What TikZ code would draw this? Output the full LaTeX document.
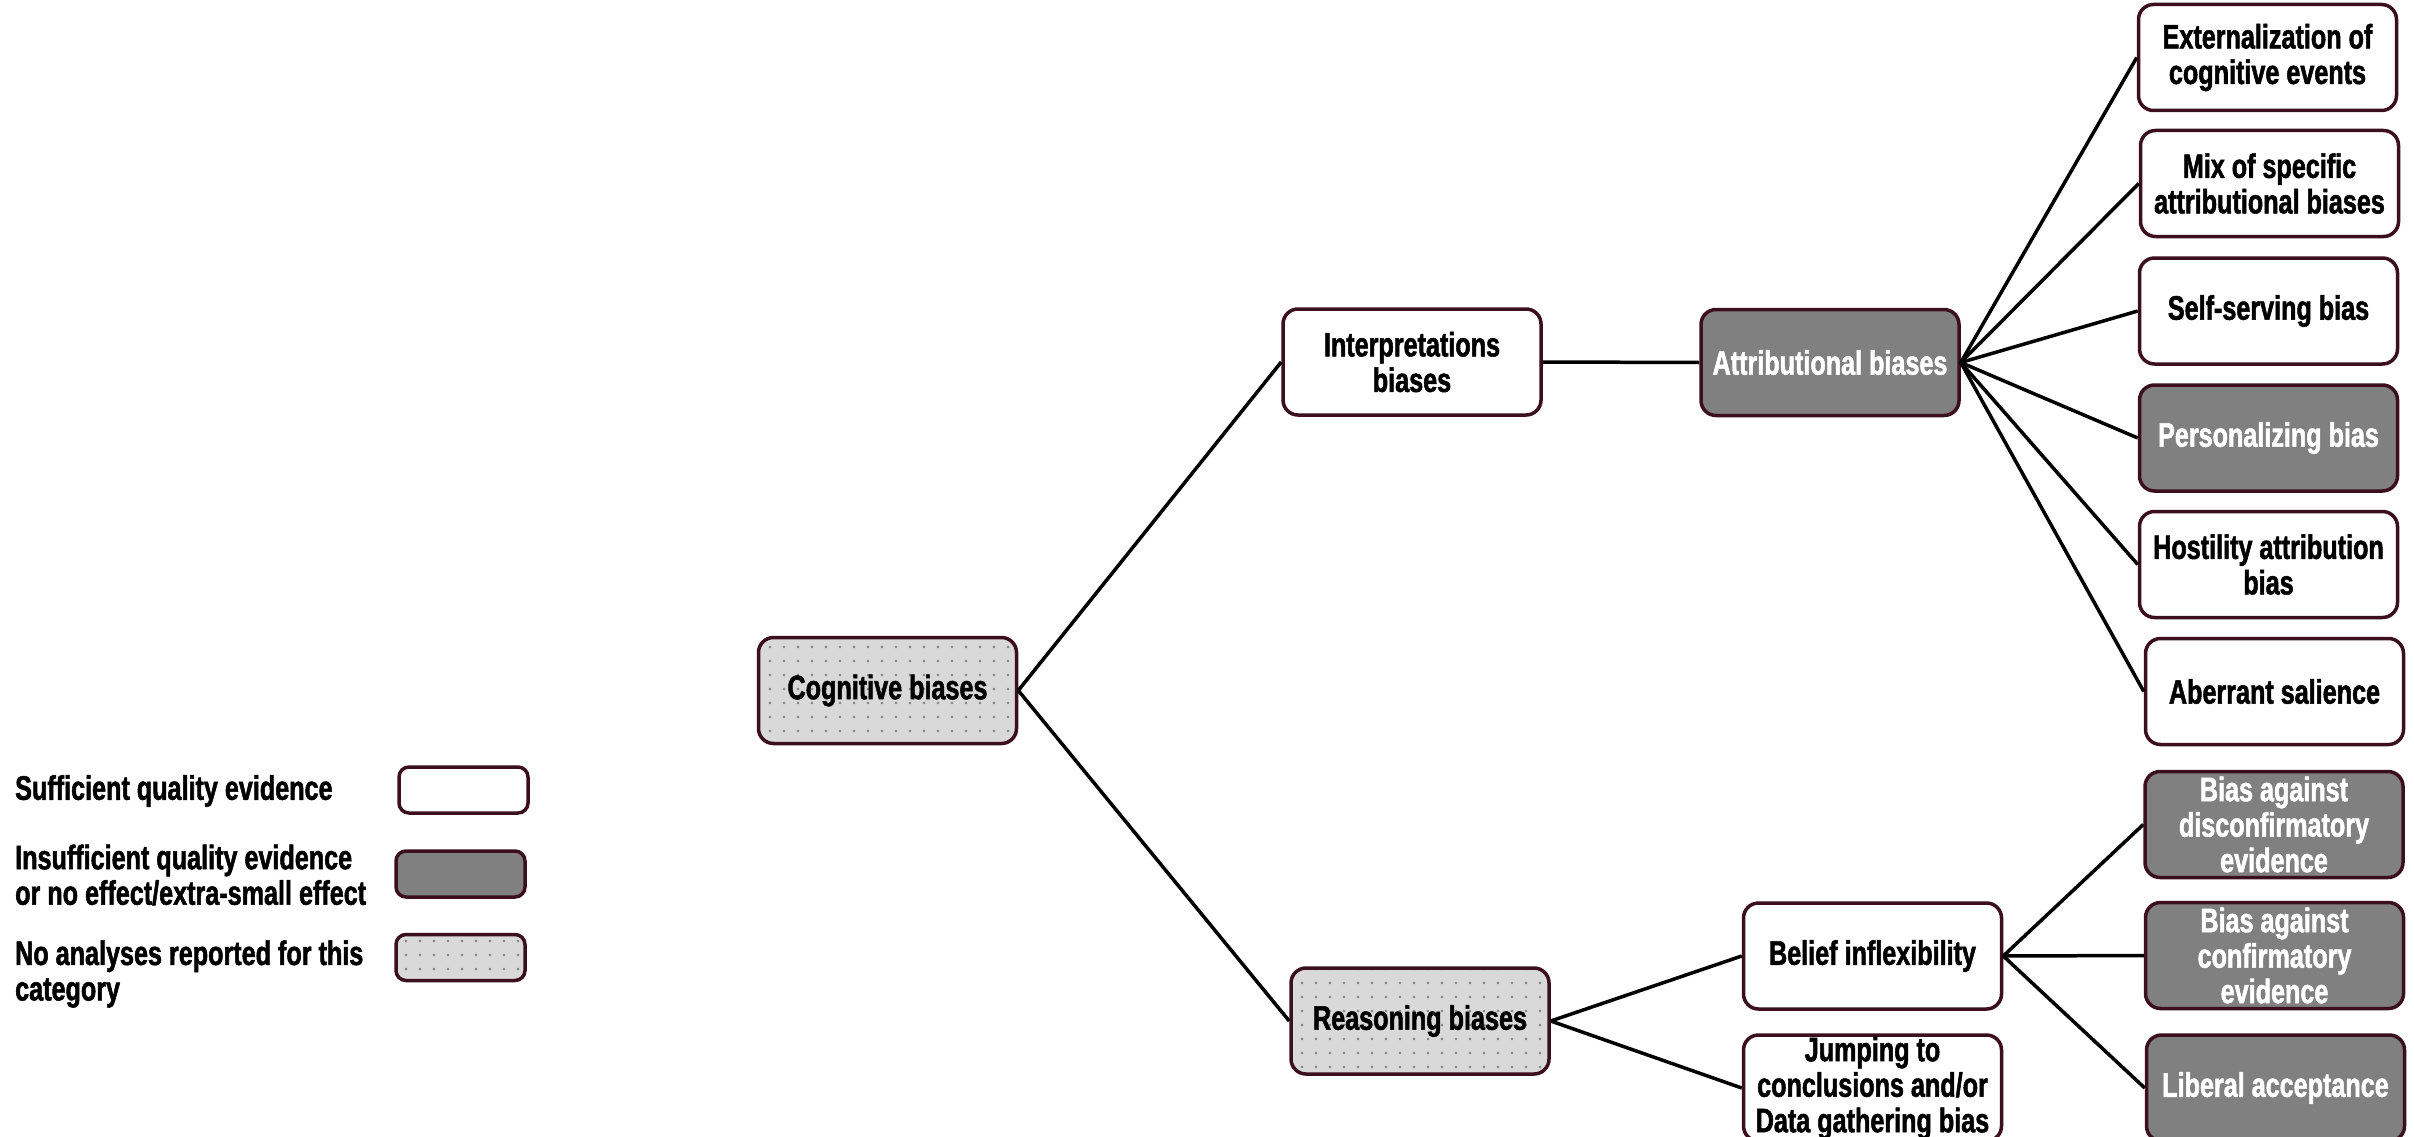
\documentclass[tikz,border=0pt]{standalone}
\usepackage{fontspec}
\setmainfont{Liberation Sans}[FakeStretch=0.74,BoldFeatures={FakeBold=1.5}]
\usetikzlibrary{patterns.meta}
\definecolor{boxline}{HTML}{3B0F1E}
\definecolor{boxgray}{HTML}{808080}
\definecolor{dotfill}{HTML}{D9D9D9}
\begin{document}
\begin{tikzpicture}
[x=1pt,y=-1pt,
 biasbox/.style={rectangle,rounded corners=15pt,draw=boxline,line width=3.5pt,minimum width=258pt,minimum height=106pt,inner sep=0pt,align=center,font=\bfseries\fontsize{34}{35.5}\selectfont},
 goodbox/.style={biasbox,fill=white},
 weakbox/.style={biasbox,fill=boxgray,text=white},
 nonebox/.style={biasbox,preaction={fill=dotfill},pattern={Dots[distance=14pt,radius=1.3pt]},pattern color=gray},
 legbox/.style={minimum width=129pt,minimum height=46pt,rounded corners=10pt},
 legtext/.style={anchor=west,align=left,inner sep=0pt,font=\bfseries\fontsize{34}{35.5}\selectfont},
 link/.style={line width=3.5pt}]
\path[use as bounding box,fill=white] (0,0) rectangle (2414,1137);

\node (cog) at (887.5,690.5) [nonebox] {Cognitive biases};
\node (interp) at (1412,362) [goodbox] {Interpretations\\biases};
\node (attr) at (1830,362.5) [weakbox] {Attributional biases};
\node (reason) at (1420,1021) [nonebox] {Reasoning biases};

\node (ext) at (2267.5,57.5) [goodbox] {Externalization of\\cognitive events};
\node (mix) at (2269.5,183.5) [goodbox] {Mix of specific\\attributional biases};
\node (self) at (2268.5,311) [goodbox] {Self-serving bias};
\node (pers) at (2268.5,438) [weakbox] {Personalizing bias};
\node (host) at (2268.5,564.5) [goodbox] {Hostility attribution\\bias};
\node (aber) at (2274.5,691.5) [goodbox] {Aberrant salience};

\node (belief) at (1872.5,956) [goodbox] {Belief inflexibility};
\node (jump) at (1872.5,1088) [goodbox] {Jumping to\\conclusions and/or\\Data gathering bias};
\node (disc) at (2274,824.5) [weakbox] {Bias against\\disconfirmatory\\evidence};
\node (conf) at (2274.5,955.5) [weakbox] {Bias against\\confirmatory\\evidence};
\node (lib) at (2275.5,1088) [weakbox] {Liberal acceptance};

\foreach \from/\to in {cog/interp, cog/reason, interp/attr, attr/ext, attr/mix, attr/self, attr/pers, attr/host, attr/aber, reason/belief, reason/jump, belief/disc, belief/conf, belief/lib}
	\draw [link] (\from.east) -- (\to.west);

% legend
\node (suff) at (15,791) [legtext] {Sufficient quality evidence};
\node (insuff) at (15,875) [legtext] {Insufficient quality evidence\\or no effect/extra-small effect};
\node (noan) at (15,974) [legtext] {No analyses reported for this\\category};
\node (suffbox) at (463.5,790) [goodbox,legbox] {};
\node (insuffbox) at (460.5,874) [weakbox,legbox] {};
\node (noanbox) at (460.5,957.5) [nonebox,legbox] {};

\end{tikzpicture}
\end{document}
